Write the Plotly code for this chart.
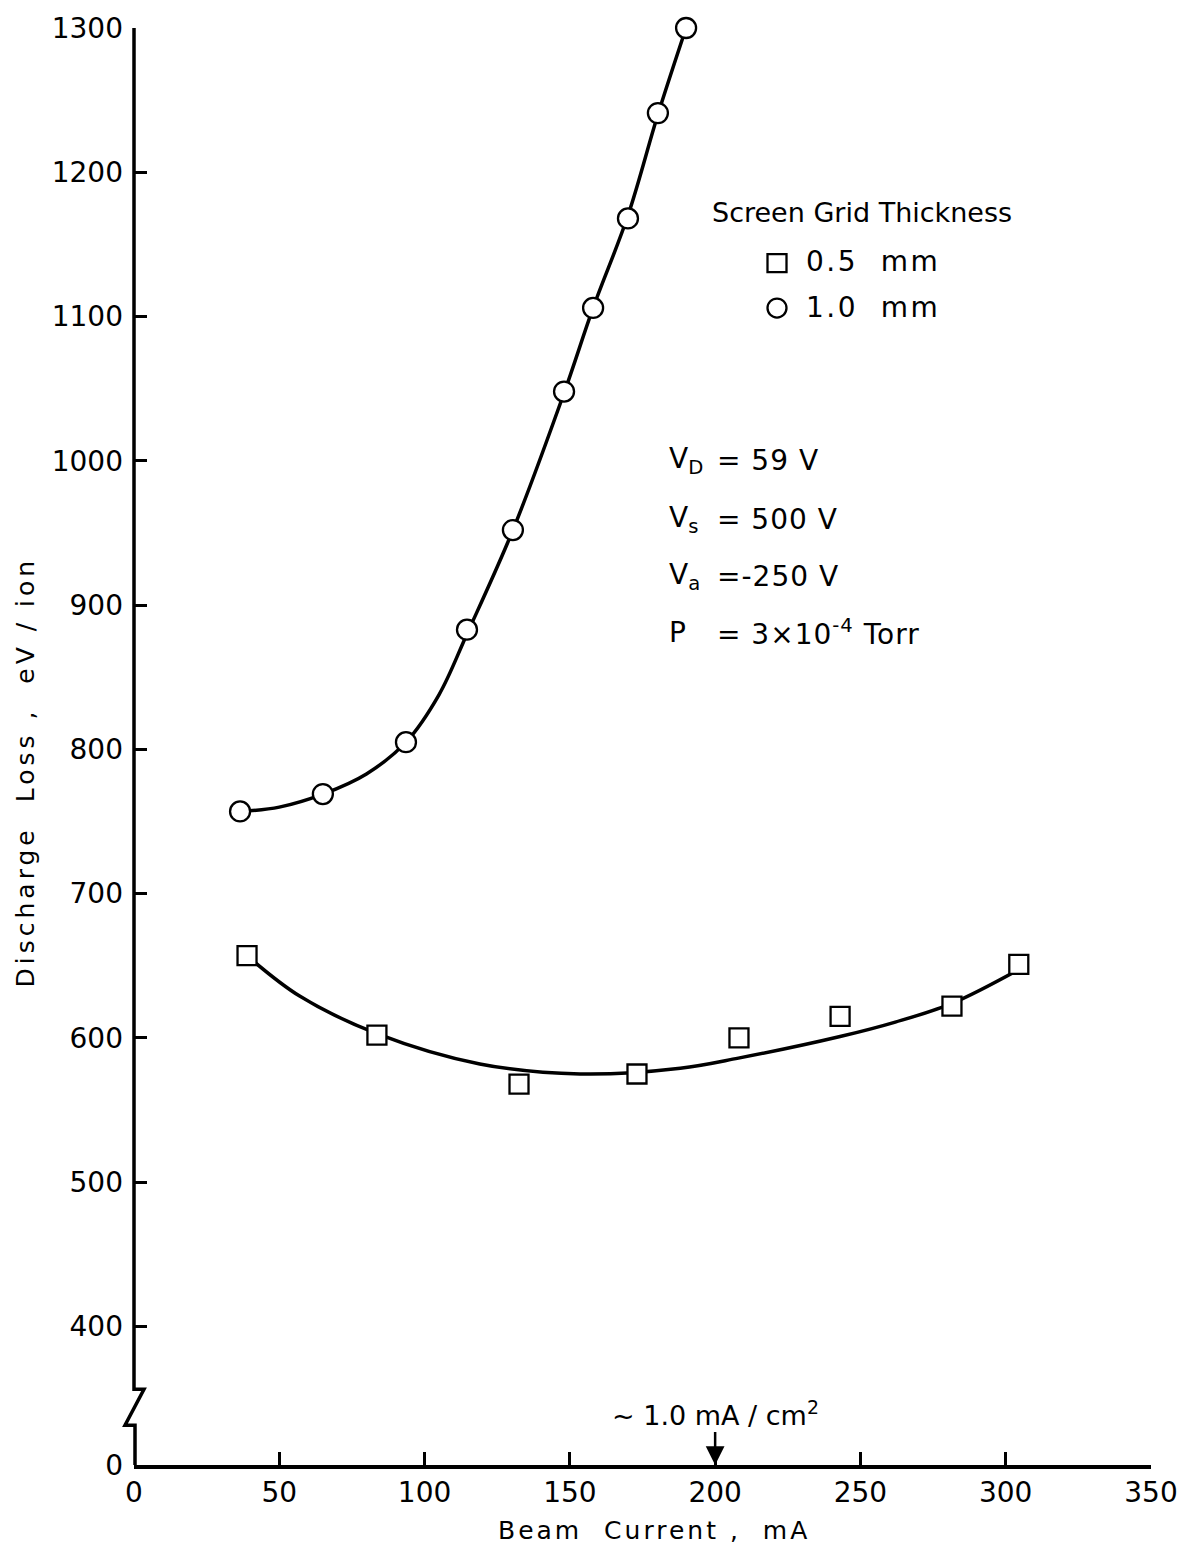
import plotly.graph_objects as go

# Measured points: beam current (mA) vs discharge loss (eV/ion)
grid05_current = [38.9, 83.6, 132.5, 173.1, 208.2, 243.0, 281.5, 304.5]
grid05_loss = [657, 602, 568, 575, 600, 615, 622, 651]

grid10_current = [36.5, 65.0, 93.6, 114.6, 130.4, 148.0, 158.0, 170.0, 180.3, 190.0]
grid10_loss = [757, 769, 805, 883, 952, 1048, 1106, 1168, 1241, 1300]

# Hand-faired curves through each data set
fit05_current = [38.9, 57, 83.6, 119, 153.5, 188, 208, 243, 262, 281.5, 305]
fit05_loss = [657, 629, 603, 582, 575, 579, 586, 601, 611, 624, 648]

fit10_current = [37, 50, 65, 80, 93.6, 105, 114.6, 130.4, 148, 158, 170, 180.3, 190]
fit10_loss = [757, 760, 769, 783, 805, 838, 880, 952, 1047, 1106, 1170, 1240, 1300]

# Axis ticks; the lowest tick marks the suppressed zero below the axis break
x_ticks = [0, 50, 100, 150, 200, 250, 300, 350]
y_break_zero = 304
y_ticks = [y_break_zero, 400, 500, 600, 700, 800, 900, 1000, 1100, 1200, 1300]
y_ticklabels = ["0", "400", "500", "600", "700", "800", "900", "1000", "1100", "1200", "1300"]

FONT = "DejaVu Sans"
INK = "black"

fig = go.Figure()

fig.add_trace(go.Scatter(x=fit05_current, y=fit05_loss, mode="lines",
                         line=dict(color=INK, width=3.5, shape="spline", smoothing=1.0),
                         showlegend=False, hoverinfo="skip"))
fig.add_trace(go.Scatter(x=fit10_current, y=fit10_loss, mode="lines",
                         line=dict(color=INK, width=3.5, shape="spline", smoothing=1.0),
                         showlegend=False, hoverinfo="skip"))
fig.add_trace(go.Scatter(x=grid05_current, y=grid05_loss, mode="markers", name="0.5 mm",
                         marker=dict(symbol="square", size=19, color="white",
                                     line=dict(color=INK, width=2.3)),
                         cliponaxis=False, showlegend=False))
fig.add_trace(go.Scatter(x=grid10_current, y=grid10_loss, mode="markers", name="1.0 mm",
                         marker=dict(symbol="circle", size=20, color="white",
                                     line=dict(color=INK, width=2.3)),
                         cliponaxis=False, showlegend=False))

annotations = []

# Axis titles
annotations.append(dict(x=179, y=0, xref="x", yref="paper", yshift=-65, showarrow=False,
                        xanchor="center", yanchor="middle",
                        text='<span style="letter-spacing:3px">Beam&nbsp; Current&nbsp;,&nbsp; mA</span>',
                        font=dict(family=FONT, size=25, color=INK)))
annotations.append(dict(x=0, y=784, xref="paper", yref="y", xshift=-109, showarrow=False,
                        xanchor="center", yanchor="middle", textangle=-90,
                        text='<span style="letter-spacing:4px">Discharge&nbsp; Loss&nbsp;,&nbsp; eV / ion</span>',
                        font=dict(family=FONT, size=25, color=INK)))

# Key
annotations.append(dict(x=250.5, y=1172, xref="x", yref="y", text="Screen Grid Thickness",
                        showarrow=False, font=dict(family=FONT, size=27, color=INK)))
for label, yy in [("0.5&nbsp;&nbsp;mm", 1138), ("1.0&nbsp;&nbsp;mm", 1106)]:
    annotations.append(dict(x=230.5, y=yy, xref="x", yref="y",
                            text='<span style="letter-spacing:2.5px">%s</span>' % label,
                            xanchor="left", showarrow=False,
                            font=dict(family=FONT, size=28, color=INK)))

# Operating conditions
cond_syms = ["V<sub>D</sub>", "V<sub>s</sub>", "V<sub>a</sub>", "P"]
cond_vals = ["= 59 V", "= 500 V", "=-250 V", "= 3×10<sup>-4</sup> Torr"]
cond_y = [1000, 959, 920, 881]
for sym, val, yy in zip(cond_syms, cond_vals, cond_y):
    annotations.append(dict(x=183.3, y=yy, xref="x", yref="y", text=sym, xanchor="left",
                            showarrow=False, font=dict(family=FONT, size=28, color=INK)))
    annotations.append(dict(x=200.0, y=yy, xref="x", yref="y",
                            text='<span style="letter-spacing:1px">%s</span>' % val,
                            xanchor="left", showarrow=False,
                            font=dict(family=FONT, size=28, color=INK)))

# Current-density marker on the x axis
annotations.append(dict(x=200, y=y_break_zero, xref="x", yref="y",
                        text="~ 1.0 mA / cm<sup>2</sup>", showarrow=True,
                        ax=0, ay=-52, arrowhead=2, arrowsize=1.5, arrowwidth=2.5,
                        arrowcolor=INK, font=dict(family=FONT, size=27, color=INK)))

# Left axis drawn with a zig-zag break between 400 and the zero tick
shapes = [dict(type="path", xref="paper", yref="y", xsizemode="pixel", xanchor=0,
               path="M 0,1300 L 0,356.5 L 10,356.5 L -9,331.6 L 1,331.6 L 1,%s" % y_break_zero,
               line=dict(color=INK, width=3.5))]

# Key symbols
shapes.append(dict(type="rect", xref="paper", yref="paper", xsizemode="pixel", ysizemode="pixel",
                   xanchor=(777 - 134) / 1017, yanchor=(1465 - 259) / 1442,
                   x0=-9.5, x1=9.5, y0=-9, y1=9, line=dict(color=INK, width=2.3)))
shapes.append(dict(type="circle", xref="paper", yref="paper", xsizemode="pixel", ysizemode="pixel",
                   xanchor=(777 - 134) / 1017, yanchor=(1465 - 304) / 1442,
                   x0=-9.5, x1=9.5, y0=-9.5, y1=9.5, line=dict(color=INK, width=2.3)))

fig.update_layout(
    width=1197, height=1555,
    margin=dict(l=134, r=46, t=23, b=90),
    paper_bgcolor="white", plot_bgcolor="white",
    font=dict(family=FONT, color=INK),
    showlegend=False,
    annotations=annotations,
    shapes=shapes,
    xaxis=dict(
        range=[0, 350], tickvals=x_ticks, ticks="inside", ticklen=13, tickwidth=2.5,
        tickcolor=INK, showline=True, linecolor=INK, linewidth=3.5, showgrid=False,
        zeroline=False, tickfont=dict(family=FONT, size=28, color=INK),
    ),
    yaxis=dict(
        range=[y_break_zero, 1300], tickvals=y_ticks, ticktext=y_ticklabels,
        ticks="inside", ticklen=13, tickwidth=2.5, tickcolor=INK, ticklabelstandoff=10,
        showline=False, showgrid=False, zeroline=False,
        tickfont=dict(family=FONT, size=28, color=INK),
    ),
)

fig.write_html("out.html")
